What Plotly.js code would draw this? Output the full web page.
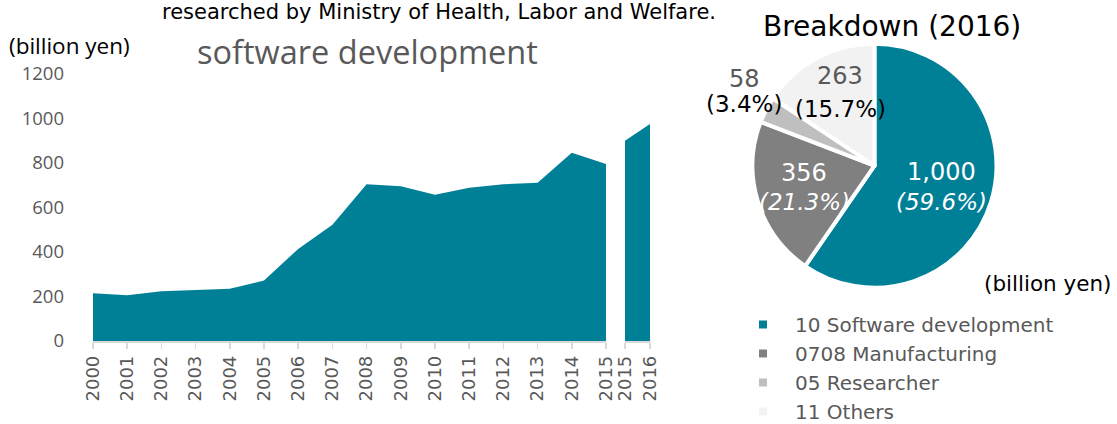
<!DOCTYPE html>
<html>
<head>
<meta charset="utf-8">
<script src="https://cdn.plot.ly/plotly-3.0.1.min.js"></script>
<style>
html,body{margin:0;padding:0;background:#fff;}
#chart{width:1117px;height:424px;}
</style>
</head>
<body>
<div id="chart"></div>
<script>
// ---- data ----
const years = ["2000","2001","2002","2003","2004","2005","2006","2007","2008","2009","2010","2011","2012","2013","2014","2015"];
const softwareValues = [215, 206, 224, 230, 235, 272, 414, 523, 705, 695, 657, 689, 705, 711, 846, 795];
const newYears = ["2015","2016"];
const newSoftwareValues = [900, 975];

const pieLabels = ["10 Software development", "0708 Manufacturing", "05 Researcher", "11 Others"];
const pieValues = [1000, 356, 58, 263];
const pieValueText = ["1,000", "356", "58", "263"];
const piePercentText = ["(59.6%)", "(21.3%)", "(3.4%)", "(15.7%)"];
const pieColors = ["#008097", "#808080", "#BFBFBF", "#F2F2F2"];

const yTicks = [0, 200, 400, 600, 800, 1000, 1200];

// ---- layout helpers (pixel -> paper) ----
const W = 1117, H = 424;
const px = x => x / W;
const py = y => 1 - y / H;

const teal = "#008097";
const grey = "#595959";

const traces = [
  {
    type: "scatter", mode: "lines", x: years, y: softwareValues,
    fill: "tozeroy", fillcolor: teal, line: {width: 0, color: teal},
    xaxis: "x", yaxis: "y", showlegend: false, hoverinfo: "x+y"
  },
  {
    type: "scatter", mode: "lines", x: newYears, y: newSoftwareValues,
    fill: "tozeroy", fillcolor: teal, line: {width: 0, color: teal},
    xaxis: "x2", yaxis: "y2", showlegend: false, hoverinfo: "x+y"
  },
  {
    type: "pie", labels: pieLabels, values: pieValues, sort: false,
    direction: "clockwise", rotation: 0,
    marker: {colors: pieColors, line: {color: "#ffffff", width: 4}},
    textinfo: "none", hoverinfo: "label+value+percent",
    domain: {x: [px(752.5), px(996.5)], y: [py(287.7), py(43.7)]},
    showlegend: true
  }
];

const tickFontX = {family: "DejaVu Sans", size: 18, color: grey};
const axisLine = "#D9D9D9";

const pieLabelPos = [
  {x: 941, y1: 172, y2: 202, c1: "#ffffff", c2: "#ffffff", italic: true},
  {x: 804, y1: 173, y2: 202, c1: "#ffffff", c2: "#ffffff", italic: true},
  {x: 744, y1: 79, y2: 104, c1: grey, c2: "#000000", italic: false},
  {x: 840, y1: 76, y2: 109, c1: grey, c2: "#000000", italic: false}
];

const annotations = [
  {text: "researched by Ministry of Health, Labor and Welfare.", x: px(439), y: py(12), xref: "paper", yref: "paper",
   showarrow: false, xanchor: "center", yanchor: "middle", font: {family: "DejaVu Sans", size: 21, color: "#000"}},
  {text: "(billion yen)", x: px(7), y: py(45), xref: "paper", yref: "paper",
   showarrow: false, xanchor: "left", yanchor: "middle", font: {family: "Open Sans", size: 22.5, color: "#000"}},
  {text: "software development", x: px(367), y: py(52), xref: "paper", yref: "paper",
   showarrow: false, xanchor: "center", yanchor: "middle", font: {family: "Open Sans", size: 32.5, color: grey}},
  {text: "Breakdown (2016)", x: px(892), y: py(27), xref: "paper", yref: "paper",
   showarrow: false, xanchor: "center", yanchor: "middle", font: {family: "DejaVu Sans", size: 28, color: "#000"}},
  {text: "(billion yen)", x: px(1114), y: py(283), xref: "paper", yref: "paper",
   showarrow: false, xanchor: "right", yanchor: "middle", font: {family: "DejaVu Sans", size: 21.5, color: "#000"}}
];

pieValueText.forEach((t, i) => {
  const p = pieLabelPos[i];
  annotations.push({text: t, x: px(p.x), y: py(p.y1), xref: "paper", yref: "paper", showarrow: false,
    xanchor: "center", yanchor: "middle", font: {family: "DejaVu Sans", size: 24, color: p.c1}});
  annotations.push({text: p.italic ? "<i>" + piePercentText[i] + "</i>" : piePercentText[i],
    x: px(p.x), y: py(p.y2), xref: "paper", yref: "paper", showarrow: false,
    xanchor: "center", yanchor: "middle", font: {family: "DejaVu Sans", size: 23, color: p.c2}});
});

const layout = {
  width: W, height: H,
  margin: {l: 0, r: 0, t: 0, b: 0, pad: 0, autoexpand: false},
  paper_bgcolor: "#fff", plot_bgcolor: "rgba(0,0,0,0)",
  showlegend: true,
  xaxis: {
    type: "category", domain: [px(93), px(606)], range: [0, years.length - 1],
    anchor: "y", showgrid: false, zeroline: false, automargin: false,
    showline: true, linecolor: axisLine, linewidth: 1.5,
    ticks: "outside", ticklen: 6, tickcolor: axisLine, tickwidth: 1.5,
    tickangle: -90, tickfont: tickFontX
  },
  yaxis: {
    domain: [py(341), py(74)], range: [0, 1200], anchor: "x", automargin: false,
    tickvals: yTicks, ticktext: yTicks.map(String),
    showgrid: false, zeroline: false, showline: false, ticks: "",
    ticklabelstandoff: 28,
    tickfont: {family: "Open Sans", size: 18.5, color: grey}
  },
  xaxis2: {
    type: "category", domain: [px(625), px(650)], range: [0, newYears.length - 1],
    anchor: "y2", showgrid: false, zeroline: false, automargin: false,
    showline: true, linecolor: axisLine, linewidth: 1.5,
    ticks: "outside", ticklen: 6, tickcolor: axisLine, tickwidth: 1.5,
    tickangle: -90, tickfont: tickFontX
  },
  yaxis2: {
    domain: [py(341), py(74)], range: [0, 1200], anchor: "x2", automargin: false,
    showgrid: false, zeroline: false, showline: false, showticklabels: false, ticks: ""
  },
  legend: {
    x: px(731), y: py(305), xanchor: "left", yanchor: "top",
    font: {family: "DejaVu Sans", size: 20, color: grey},
    bgcolor: "rgba(0,0,0,0)", itemwidth: 54, tracegroupgap: 0
  },
  annotations: annotations
};

Plotly.newPlot("chart", traces, layout, {displayModeBar: false, staticPlot: true});
</script>
</body>
</html>
